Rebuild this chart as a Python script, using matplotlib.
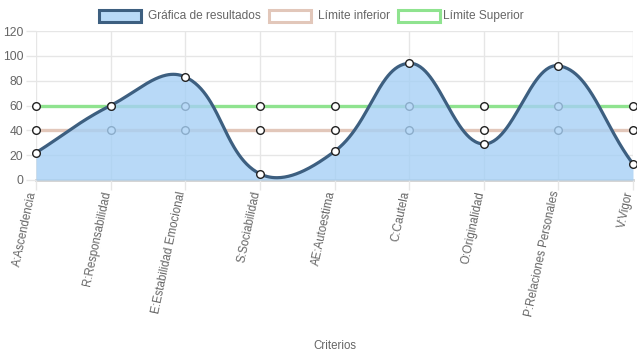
import numpy as np
import matplotlib
matplotlib.use("Agg")
import matplotlib.pyplot as plt
import matplotlib.transforms as mtransforms
from matplotlib.patches import Rectangle

categories = ["A:Ascendencia", "R:Responsabilidad", "E:Estabilidad Emocional",
              "S:Sociabilidad", "AE:Autoestima", "C:Cautela", "O:Originalidad",
              "P:Relaciones Personales", "V:Vigor"]
resultados = [22, 60, 83, 5, 23, 94, 29, 92, 13]
limite_inferior = [40] * 9
limite_superior = [60] * 9
yticks = [0, 20, 40, 60, 80, 100, 120]

W, H = 637, 359
FS = 8.3
plt.rcParams['font.family'] = ['Liberation Sans', 'DejaVu Sans']
fig = plt.figure(figsize=(W / 100, H / 100), dpi=100)
L, R, T, B = 36, 633, 31, 180
ax = fig.add_axes([L / W, 1 - B / H, (R - L) / W, (B - T) / H])

n = len(categories)
x = np.arange(n)
ax.set_xlim(0, n - 1)
ax.set_ylim(0, 120)

# pixel scales for chart.js-like spline
sx = (R - L) / (n - 1)
sy = (B - T) / 120.0


def spline(xs, ys, t=0.4):
    P = np.column_stack([np.array(xs) * sx, np.array(ys) * sy]).astype(float)
    m = len(P)
    cps = []
    for i in range(m):
        prev = P[i - 1] if i > 0 else P[i]
        cur = P[i]
        nxt = P[i + 1] if i < m - 1 else P[i]
        d01 = np.hypot(*(cur - prev))
        d12 = np.hypot(*(nxt - cur))
        tot = d01 + d12
        s01 = d01 / tot if tot else 0
        s12 = d12 / tot if tot else 0
        fa, fb = t * s01, t * s12
        cps.append((cur - fa * (nxt - prev), cur + fb * (nxt - prev)))
    out = []
    ts = np.linspace(0, 1, 60)[:, None]
    for i in range(m - 1):
        p0 = P[i]; p1 = cps[i][1]; p2 = cps[i + 1][0]; p3 = P[i + 1]
        seg = ((1 - ts) ** 3) * p0 + 3 * ((1 - ts) ** 2) * ts * p1 + 3 * (1 - ts) * ts ** 2 * p2 + ts ** 3 * p3
        out.append(seg if i == 0 else seg[1:])
    out = np.vstack(out)
    return out[:, 0] / sx, out[:, 1] / sy


# grid
for yv in yticks[1:]:
    ax.axhline(yv, color='#e6e6e6', lw=1, zorder=0)
for xv in x:
    ax.axvline(xv, color='#e6e6e6', lw=1, zorder=0)
ax.axhline(0, color='#d0d0d0', lw=2, zorder=1, clip_on=False)

# limit lines
ax.plot(x, limite_inferior, color='#e2c7ba', lw=2.4, zorder=2, clip_on=False)
ax.plot(x, limite_inferior, 'o', mfc='white', mec='#222222', mew=1, ms=5.5, zorder=2.1, clip_on=False)
ax.plot(x, limite_superior, color='#8fe38f', lw=2.4, zorder=2, clip_on=False)
ax.plot(x, limite_superior, 'o', mfc='white', mec='#222222', mew=1, ms=5.5, zorder=2.1, clip_on=False)

# main series
cx, cy = spline(x, resultados)
ax.fill_between(cx, 0, cy, color=(166 / 255, 208 / 255, 245 / 255), alpha=0.8, lw=0, zorder=3)
ax.plot(cx, cy, color='#3d5f80', lw=2.3, zorder=4, clip_on=False, solid_capstyle='round')
ax.plot(x, resultados, 'o', mfc='white', mec='#222222', mew=1, ms=5.5, zorder=5, clip_on=False)

for s in ax.spines.values():
    s.set_visible(False)
ax.set_yticks(yticks)
ax.set_yticklabels([str(v) for v in yticks], fontsize=FS + 0.4, color='#666666')
ax.set_xticks(x)
ax.set_xticklabels(categories, rotation=78, ha='right', va='center',
                   rotation_mode='anchor', fontsize=FS, color='#666666')
ax.tick_params(axis='both', length=7, color='#e6e6e6', width=1)
ax.tick_params(axis='x', pad=1)
ax.tick_params(axis='y', pad=2)
shift = mtransforms.ScaledTranslation(-3 / 100, 0, fig.dpi_scale_trans)
for lab in ax.get_xticklabels():
    lab.set_transform(lab.get_transform() + shift)

fig.text(335 / W, 1 - 346 / H, "Criterios", ha='center', va='center', fontsize=FS, color='#666666')

# legend
items = [
    (99, (185 / 255, 218 / 255, 247 / 255), '#3d5f80', "Gráfica de resultados", 148),
    (269, 'white', '#e2c7ba', "Límite inferior", 318),
    (398, 'white', '#8fe38f', "Límite Superior", 443),
]
for bx, fc, ec, label, tx in items:
    fig.add_artist(Rectangle((bx / W, 1 - 22 / H), 42 / W, 12 / H, transform=fig.transFigure,
                             facecolor=fc, edgecolor=ec, lw=2.2))
    fig.text(tx / W, 1 - 16 / H, label, ha='left', va='center', fontsize=FS + 0.3, color='#666666')

fig.savefig("out.png", dpi=100)
